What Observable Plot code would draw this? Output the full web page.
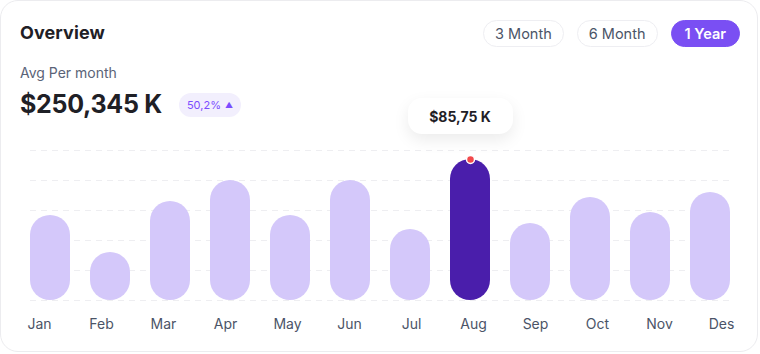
<!DOCTYPE html>
<html><head><meta charset="utf-8">
<script src="https://cdn.jsdelivr.net/npm/d3@7"></script>
<script src="https://cdn.jsdelivr.net/npm/@observablehq/plot@0.6"></script>
<style>
html,body{margin:0;padding:0;background:#fff;}
body{width:760px;height:354px;position:relative;overflow:hidden;font-family:Inter,"Noto Sans",sans-serif;}
.card{position:absolute;left:0;top:0;width:756px;height:350px;border:1px solid #ececef;border-radius:18px;background:#fff;}
.title{position:absolute;left:20px;top:22px;font-size:18px;font-weight:700;color:#1f2026;letter-spacing:0.1px;}
.sub{position:absolute;left:20px;top:64px;font-size:14px;color:#5a6377;}
.total{position:absolute;left:20px;top:89px;font-size:25px;font-weight:700;color:#1f2026;letter-spacing:-0.3px;}
.badge{position:absolute;left:179px;top:93px;width:62px;height:24px;border-radius:12px;background:#f2effd;color:#7c4dff;font-size:11px;display:flex;align-items:center;justify-content:center;gap:4px;}
.badge .tri{font-size:8px;}
.ranges{position:absolute;right:20px;top:20px;display:flex;gap:13px;}
.pill{height:25px;border:1px solid #eeeef2;border-radius:14px;padding:0 11px;display:flex;align-items:center;font-size:14.5px;color:#4b5467;background:#fff;}
.pill.active{background:#7a4ff3;border-color:#7a4ff3;color:#fff;font-weight:600;padding:0 13px;}
#chart{position:absolute;left:0;top:90px;}
#axis{position:absolute;left:0;top:313px;}
.tip{position:absolute;height:36px;width:105px;border-radius:14px;background:#fff;box-shadow:0 6px 16px rgba(0,0,0,0.08);display:flex;align-items:center;justify-content:center;font-size:14px;font-weight:700;color:#1f2026;}
</style></head>
<body>
<div class="card"></div>
<div class="title" id="title"></div>
<div class="sub" id="sub"></div>
<div class="total" id="total"></div>
<div class="badge"><span id="change"></span><span class="tri">▲</span></div>
<div class="ranges" id="ranges"></div>
<div id="chart"></div>
<div id="axis"></div>
<script>
const title = "Overview";
const subtitle = "Avg Per month";
const total = "$250,345 K";
const change = "50,2%";
const rangeLabels = ["3 Month", "6 Month", "1 Year"];
const activeRange = "1 Year";
const months = ["Jan","Feb","Mar","Apr","May","Jun","Jul","Aug","Sep","Oct","Nov","Des"];
const values = [56.7, 32, 66, 80, 56.7, 80, 47.3, 94, 51.3, 68.7, 58.7, 72];
const gridTicks = [0, 20, 40, 60, 80, 100];
const highlight = "Aug";
const tooltipLabel = "$85,75 K";

document.getElementById("title").textContent = title;
document.getElementById("sub").textContent = subtitle;
document.getElementById("total").textContent = total;
document.getElementById("change").textContent = change;
const rEl = document.getElementById("ranges");
rangeLabels.forEach(r => {
  const d = document.createElement("div");
  d.className = "pill" + (r === activeRange ? " active" : "");
  d.textContent = r;
  rEl.appendChild(d);
});

const data = months.map((m, i) => ({month: m, value: values[i]}));
const light = "#d4c8fa", dark = "#4a1eab";

const chart = Plot.plot({
  width: 760, height: 264,
  marginTop: 60, marginBottom: 54, marginLeft: 30, marginRight: 30,
  x: {domain: months, paddingInner: 1/3, paddingOuter: 0, axis: null},
  y: {domain: [0, 100], axis: null},
  color: {type: "identity"},
  marks: [
    Plot.ruleY(gridTicks, {stroke: "#eeeef1", strokeDasharray: "6,5", strokeWidth: 1}),
    Plot.barY(data, {x: "month", y: "value", fill: d => d.month === highlight ? dark : light, rx: 20}),
    Plot.dot(data.filter(d => d.month === highlight), {x: "month", y: "value", r: 4, fill: "#f2494b", stroke: "#fff", strokeWidth: 1.5})
  ]
});
document.getElementById("chart").appendChild(chart);

const xs = chart.scale("x"), ys = chart.scale("y");
const hv = data.find(d => d.month === highlight);
const cx = xs.apply(highlight) + xs.bandwidth / 2 - 10;
const topY = 90 + ys.apply(hv.value);
const tip = document.createElement("div");
tip.className = "tip";
tip.textContent = tooltipLabel;
tip.style.left = (cx - 52.5) + "px";
tip.style.top = (topY - 61) + "px";
document.body.appendChild(tip);

const axis = Plot.plot({
  width: 760, height: 30,
  marginTop: 4, marginBottom: 26, marginLeft: 37.5, marginRight: 38,
  x: {type: "point", domain: months, padding: 0, tickSize: 0, tickPadding: 2, label: null},
  style: {fontSize: "14px", color: "#4b5467", fontFamily: "Inter, sans-serif", background: "transparent", overflow: "visible"},
  marks: [Plot.ruleY([], {})]
});
document.getElementById("axis").appendChild(axis);
</script>
</body></html>
